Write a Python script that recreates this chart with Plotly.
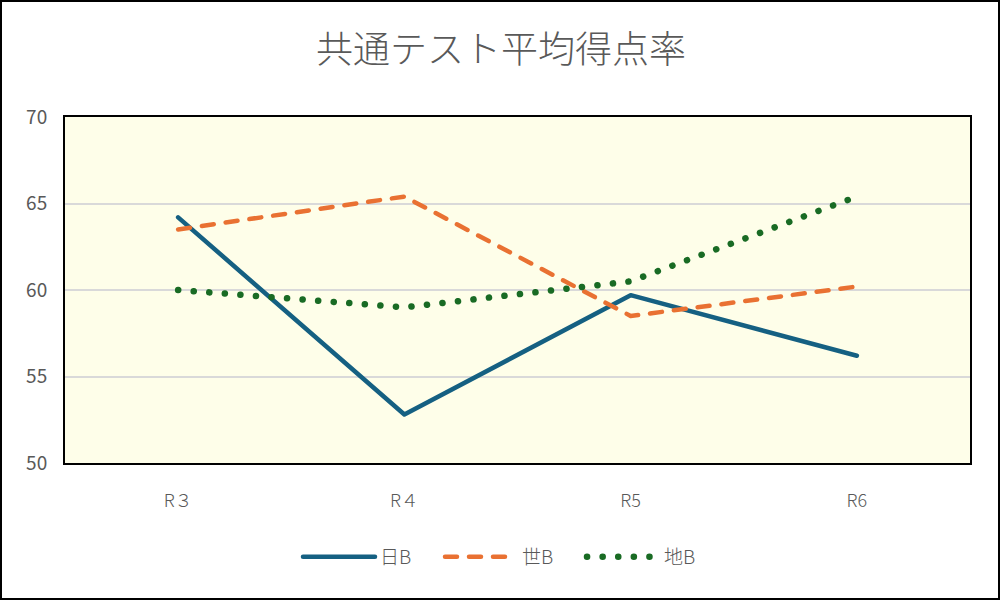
import plotly.graph_objects as go

categories = ["R３", "R４", "R5", "R6"]
nichi_b = [64.2, 52.8, 59.7, 56.2]
sekai_b = [63.5, 65.4, 58.5, 60.2]
chiri_b = [60.0, 59.0, 60.5, 65.4]
series_names = ["日B", "世B", "地B"]
y_ticks = [50, 55, 60, 65, 70]

W, H = 1000, 600
ML, MR, MT, MB = 65, 30, 117, 137
PW, PH = W - ML - MR, H - MT - MB

font_family = "Noto Sans CJK JP, Noto Sans, sans-serif"
gray = "#595959"

fig = go.Figure()
fig.add_trace(go.Scatter(x=categories, y=nichi_b, name=series_names[0], mode="lines",
                         line=dict(color="#156082", width=4.5)))
fig.add_trace(go.Scatter(x=categories, y=sekai_b, name=series_names[1], mode="lines",
                         line=dict(color="#E97132", width=4.5, dash="12px,12px")))
fig.add_trace(go.Scatter(x=categories, y=chiri_b, name=series_names[2], mode="lines",
                         line=dict(color="#196B24", width=6.5, dash="0.1px,15.5px")))

fig.update_layout(
    width=W, height=H,
    margin=dict(l=ML, r=MR, t=MT, b=MB),
    paper_bgcolor="white",
    plot_bgcolor="#FEFEE9",
    title=dict(text="共通テスト平均得点率", x=(501 - ML) / PW, xref="paper", xanchor="center",
               y=1 - 50 / H, yanchor="middle",
               font=dict(family=font_family, size=37, color=gray, weight=300)),
    font=dict(family=font_family, color=gray),
    showlegend=True,
    legend=dict(orientation="h", x=(298 - ML) / PW, xanchor="left", y=(-(557 - (H - MB)) / PH),
                yanchor="middle", font=dict(size=19, color=gray, weight=300), itemwidth=72,
                entrywidth=55, entrywidthmode="pixels", tracegroupgap=0),
    xaxis=dict(type="category", range=[-0.5, 3.5], showgrid=False, showline=True, mirror=True,
               linecolor="black", linewidth=2, ticks="", tickfont=dict(size=18, color=gray, weight=300),
               ticklabelstandoff=20, zeroline=False),
    yaxis=dict(range=[50, 70], tickvals=y_ticks, showgrid=True, gridcolor="#D9D9D9", gridwidth=1.5,
               showline=True, mirror=True, linecolor="black", linewidth=2, ticks="",
               tickfont=dict(size=19, color=gray), ticklabelstandoff=12, zeroline=False),
    shapes=[dict(type="rect", xref="paper", yref="paper",
                 x0=(-ML + 1) / PW, x1=(W - ML - 1) / PW,
                 y0=(-MB + 1) / PH, y1=(H - MB - 1) / PH,
                 line=dict(color="black", width=2), fillcolor="rgba(0,0,0,0)", layer="above")],
)

post = """
document.body.style.margin = '0';
document.body.style.overflow = 'hidden';
document.querySelectorAll('.scatterlayer path.js-line, .legendlines path').forEach(function(p){
  p.style.strokeLinecap = 'round';
  p.style.strokeLinejoin = 'round';
});
"""
fig.write_html("out.html", post_script=post, config={"displayModeBar": False})
